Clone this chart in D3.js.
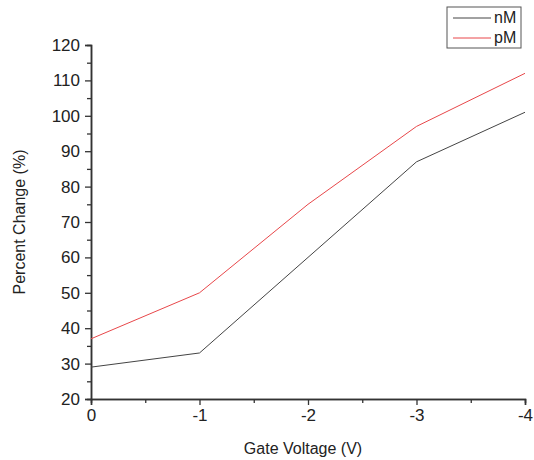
<!DOCTYPE html>
<html>
<head>
<meta charset="utf-8">
<script src="https://cdn.jsdelivr.net/npm/d3@7"></script>
<style>
body { margin: 0; background: #fff; }
text { font-family: "Liberation Sans", Arial, sans-serif; fill: #222; }
</style>
</head>
<body>
<div id="chart"></div>
<script>
// values
let voltages = [0, -1, -2, -3, -4];
let nM = [29, 33, 60, 87, 101];
let pM = [37, 50, 75, 97, 112];
let yTicks = [20, 30, 40, 50, 60, 70, 80, 90, 100, 110, 120];
let xTicks = [0, -1, -2, -3, -4];

let width = 534, height = 460;

let svg = d3.select('#chart')
    .append('svg')
    .attr('width', width)
    .attr('height', height);

let x = d3.scaleLinear().domain([0, -4]).range([91, 525]);
let y = d3.scaleLinear().domain([20, 120]).range([399, 45]);

// minor ticks
let xMinor = d3.axisBottom(x).tickValues(d3.range(-0.5, -4, -1)).tickSize(4).tickFormat('');
let yMinor = d3.axisLeft(y).tickValues(d3.range(25, 120, 10)).tickSize(4).tickFormat('');

svg.append('g').attr('transform', 'translate(0,399)').call(xMinor);
svg.append('g').attr('transform', 'translate(91,0)').call(yMinor);

let xAxis = d3.axisBottom(x).tickValues(xTicks).tickSize(6).tickPadding(4).tickFormat(d3.format('d'));
let yAxis = d3.axisLeft(y).tickValues(yTicks).tickSize(6).tickPadding(5);

let gx = svg.append('g').attr('transform', 'translate(0,399)').call(xAxis);
let gy = svg.append('g').attr('transform', 'translate(91,0)').call(yAxis);

gx.selectAll('text').style('font-size', '17px').text(d => d === 0 ? '0' : String(d).replace('−', '-'));
gy.selectAll('text').style('font-size', '17px');

svg.selectAll('.domain').attr('stroke', '#333').attr('stroke-width', 1.5);
svg.selectAll('.tick line').attr('stroke', '#333').attr('stroke-width', 1.3);

let line = d3.line()
    .x((d, i) => x(voltages[i]))
    .y(d => y(d));

svg.append('path')
    .attr('d', line(nM))
    .attr('fill', 'none')
    .attr('stroke', '#444')
    .attr('stroke-width', 1);

svg.append('path')
    .attr('d', line(pM))
    .attr('fill', 'none')
    .attr('stroke', '#e8474a')
    .attr('stroke-width', 1);

// axis titles
svg.append('text')
    .attr('x', 303)
    .attr('y', 454)
    .attr('text-anchor', 'middle')
    .style('font-size', '16px')
    .text('Gate Voltage (V)');

svg.append('text')
    .attr('transform', 'translate(25,222) rotate(-90)')
    .attr('text-anchor', 'middle')
    .style('font-size', '16px')
    .text('Percent Change (%)');

// legend
let legend = svg.append('g');
legend.append('rect')
    .attr('x', 447).attr('y', 7)
    .attr('width', 74).attr('height', 41)
    .attr('fill', '#fff')
    .attr('stroke', '#555')
    .attr('stroke-width', 1);

let series = [{name: 'nM', color: '#444'}, {name: 'pM', color: '#e8474a'}];
series.forEach((s, i) => {
    let ly = 18 + i * 20;
    legend.append('line')
        .attr('x1', 453).attr('x2', 491)
        .attr('y1', ly).attr('y2', ly)
        .attr('stroke', s.color)
        .attr('stroke-width', 1);
    legend.append('text')
        .attr('x', 494).attr('y', ly + 5)
        .style('font-size', '16px')
        .text(s.name);
});
</script>
</body>
</html>
